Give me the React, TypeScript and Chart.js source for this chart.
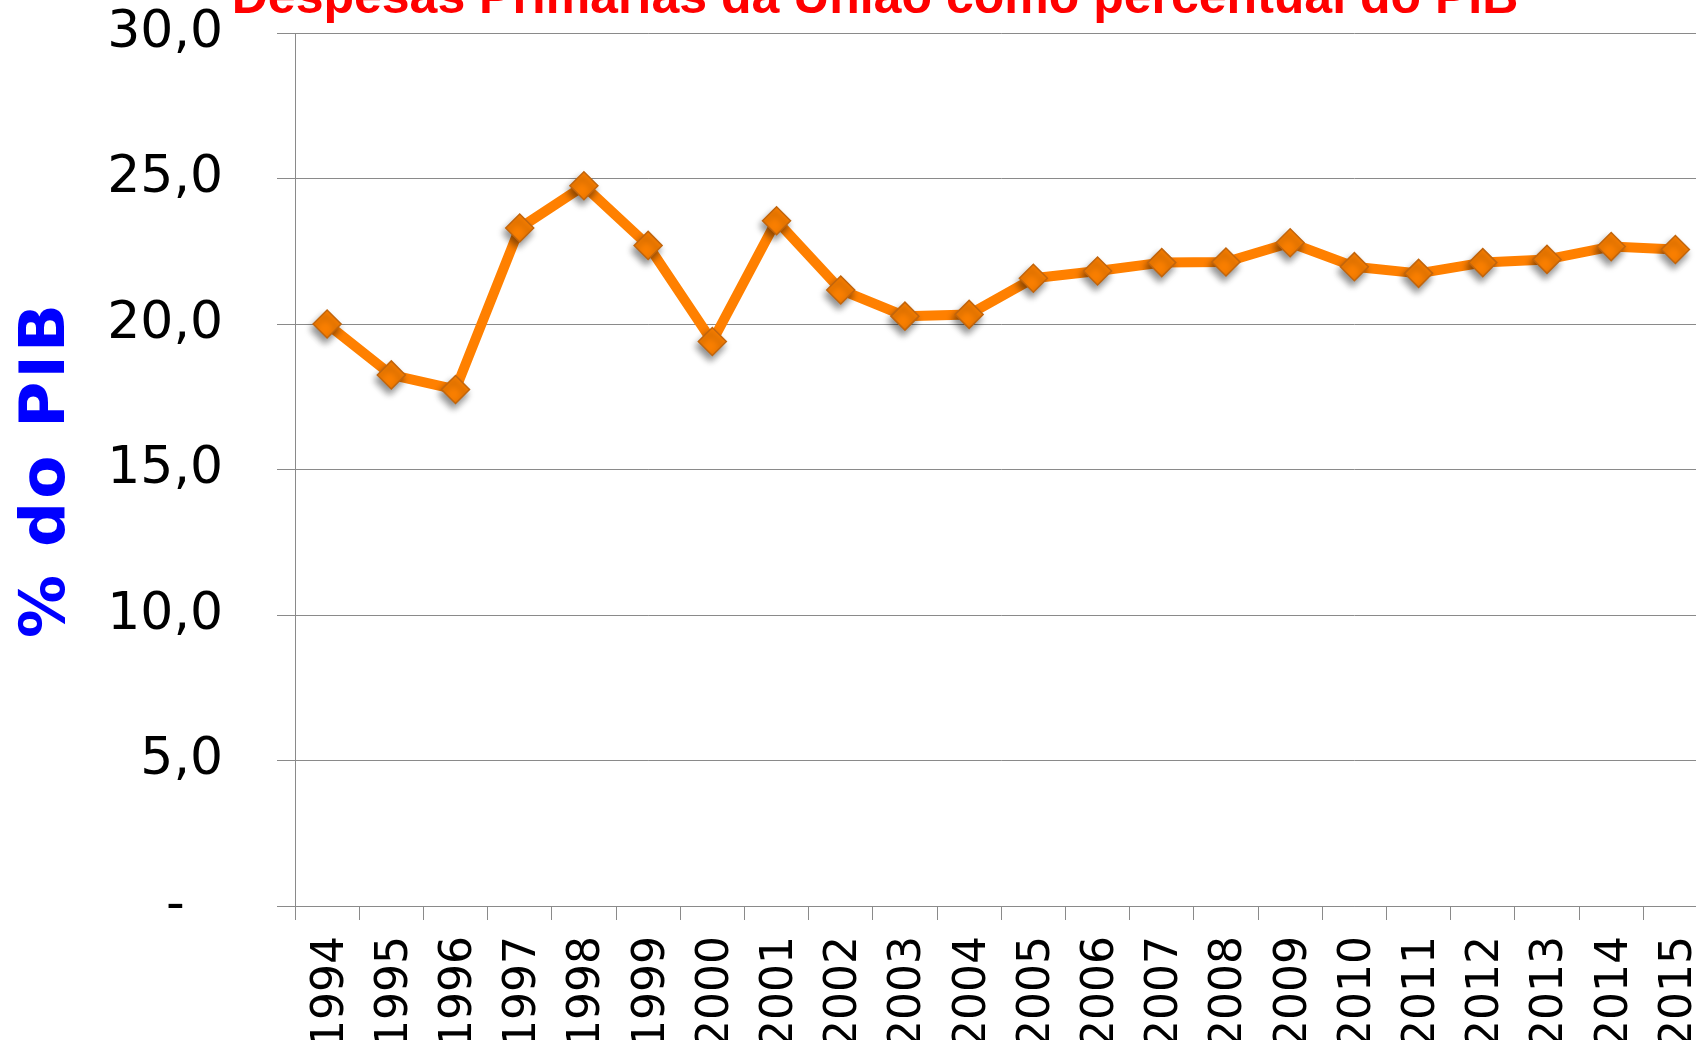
import React, { useEffect, useRef } from 'react';
import { Chart, registerables } from 'chart.js';

Chart.register(...registerables);

// ---- Data ----
const years = [
  '1994', '1995', '1996', '1997', '1998', '1999', '2000', '2001', '2002', '2003', '2004',
  '2005', '2006', '2007', '2008', '2009', '2010', '2011', '2012', '2013', '2014', '2015',
];
const despesasPctPib = [
  20.0, 18.25, 17.75, 23.3, 24.75, 22.7, 19.4, 23.55, 21.17, 20.27, 20.33,
  21.57, 21.82, 22.11, 22.13, 22.79, 21.97, 21.74, 22.11, 22.22, 22.66, 22.56,
];
const yTickValues = [0, 5, 10, 15, 20, 25, 30];
const yTickLabels = ['-  \u200a', '5,0', '10,0', '15,0', '20,0', '25,0', '30,0'];
const chartTitle = 'Despesas Primárias da União como percentual do PIB';
const yAxisTitle = '% do PIB';

const titlePlugin = {
  id: 'cutTitle',
  afterDraw(chart: any) {
    const ctx = chart.ctx;
    ctx.save();
    ctx.font = 'bold 50px "Liberation Sans", Arial, sans-serif';
    ctx.fillStyle = '#FF0000';
    ctx.textAlign = 'center';
    ctx.textBaseline = 'alphabetic';
    ctx.fillText(chartTitle, 875, 13);
    ctx.restore();

    // y axis title
    ctx.save();
    ctx.translate(64, (chart.chartArea.top + chart.chartArea.bottom) / 2);
    ctx.rotate(-Math.PI / 2);
    ctx.font = 'bold 63px "DejaVu Sans", sans-serif';
    (ctx as any).letterSpacing = '3px';
    ctx.fillStyle = '#0000FF';
    ctx.textAlign = 'center';
    ctx.textBaseline = 'alphabetic';
    ctx.fillText(yAxisTitle, 0, 0);
    ctx.restore();
  },
};

const markerShadowPlugin = {
  id: 'markerShadow',
  beforeDatasetDraw(chart: any, args: any) {
    if (args.index !== 0) return;
    const ctx = chart.ctx;
    ctx.save();
    ctx.shadowColor = 'rgba(0,0,0,0.45)';
    ctx.shadowBlur = 7;
    ctx.shadowOffsetX = -2;
    ctx.shadowOffsetY = 5;
  },
  afterDatasetDraw(chart: any, args: any) {
    if (args.index !== 0) return;
    chart.ctx.restore();
  },
};

export default function App() {
  const canvasRef = useRef<HTMLCanvasElement | null>(null);

  useEffect(() => {
    const canvas = canvasRef.current;
    if (!canvas) return;
    const gridColor = '#8a8a8a';
    const chart = new Chart(canvas, {
      type: 'line',
      data: {
        labels: years,
        datasets: [
          {
            label: 'markers',
            data: despesasPctPib,
            showLine: false,
            pointStyle: 'rectRot',
            pointRadius: 14,
            pointBackgroundColor: '#FA7F00',
            pointBorderColor: '#C2650C',
            pointBorderWidth: 1.5,
            order: 0,
          },
          {
            label: 'line',
            data: despesasPctPib,
            borderColor: '#FF8000',
            borderWidth: 10,
            borderJoinStyle: 'round',
            borderCapStyle: 'round',
            pointRadius: 0,
            tension: 0,
            fill: false,
            order: 1,
          },
        ],
      },
      options: {
        animation: false,
        responsive: false,
        devicePixelRatio: 1,
        layout: { padding: { top: 33, right: 0, bottom: 0, left: 0 } },
        plugins: {
          legend: { display: false },
          tooltip: { enabled: false },
          title: { display: false },
        },
        scales: {
          x: {
            type: 'category',
            offset: true,
            grid: {
              offset: true,
              drawOnChartArea: false,
              drawTicks: true,
              tickLength: 14,
              color: gridColor,
              lineWidth: 1,
            },
            border: { display: true, color: gridColor, width: 1 },
            ticks: {
              autoSkip: false,
              maxRotation: 90,
              minRotation: 90,
              padding: 16,
              labelOffset: 4,
              color: '#000000',
              font: { family: '"DejaVu Sans", sans-serif', size: 44 },
            },
            afterFit: (scale: any) => {
              scale.height = 134;
              scale.paddingLeft = 0;
              scale.paddingRight = 0;
            },
          },
          y: {
            min: 0,
            max: 30,
            grid: {
              color: gridColor,
              lineWidth: 1,
              drawTicks: true,
              tickLength: 18,
            },
            border: { display: true, color: gridColor, width: 1 },
            ticks: {
              stepSize: 5,
              padding: 54,
              color: '#000000',
              font: { family: '"DejaVu Sans", sans-serif', size: 52 },
              callback: (value: any) => {
                const i = yTickValues.indexOf(Number(value));
                return i >= 0 ? yTickLabels[i] : '';
              },
            },
            afterFit: (scale: any) => {
              scale.width = 295;
              scale.paddingTop = 0;
              scale.paddingBottom = 0;
            },
          },
        },
      },
      plugins: [markerShadowPlugin, titlePlugin],
    } as any);
    return () => chart.destroy();
  }, []);

  return (
    <div
      style={{
        position: 'absolute',
        left: 0,
        top: 0,
        width: 1696,
        height: 1040,
        overflow: 'hidden',
        background: '#ffffff',
      }}
    >
      <canvas
        ref={canvasRef}
        width={1723}
        height={1040}
        style={{ display: 'block', width: 1723, height: 1040 }}
      />
    </div>
  );
}
